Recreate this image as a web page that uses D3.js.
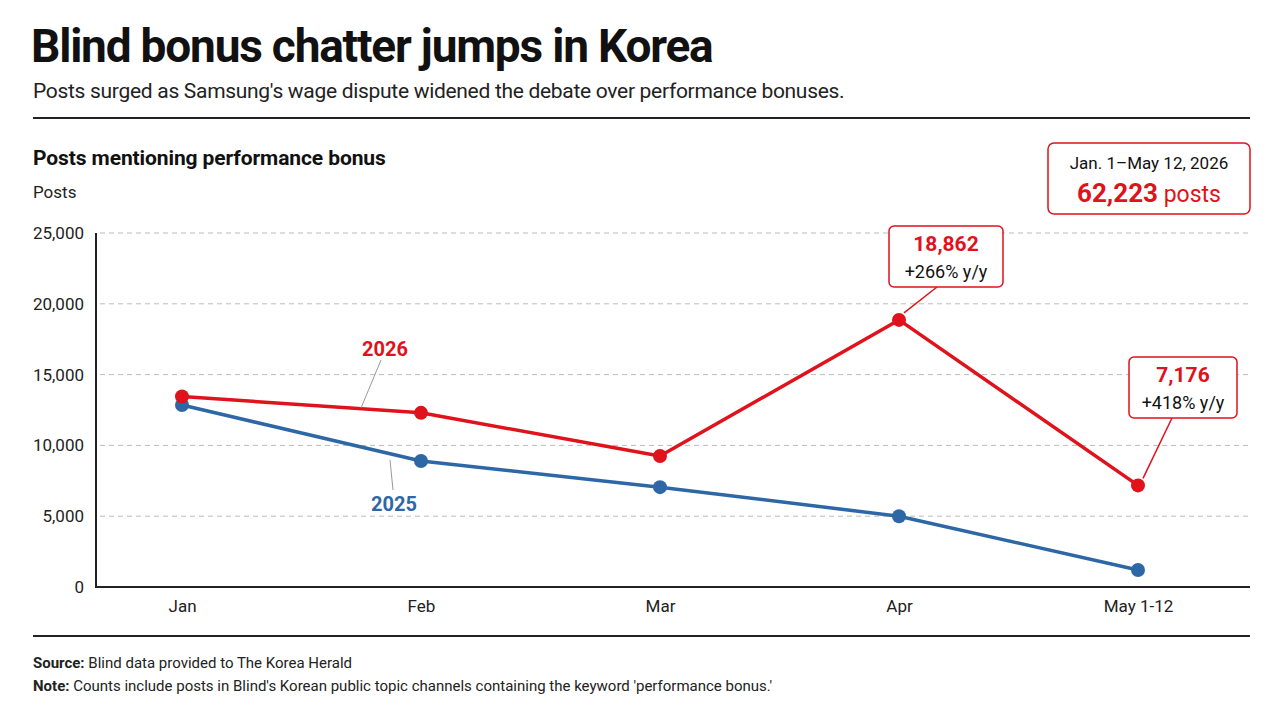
<!DOCTYPE html>
<html>
<head>
<meta charset="utf-8">
<script src="https://cdn.jsdelivr.net/npm/d3@7"></script>
<style>
  html, body { margin: 0; padding: 0; background: #fff; }
  svg { display: block; font-family: Roboto, "Noto Sans", sans-serif; }
</style>
</head>
<body>
<svg id="chart" width="1280" height="720"></svg>
<script>
// chart data
var months = ['Jan', 'Feb', 'Mar', 'Apr', 'May 1-12'];
var posts_2026 = [13450, 12300, 9250, 18862, 7176];
var posts_2025 = [12850, 8900, 7050, 5000, 1200];
var y_ticks = [0, 5000, 10000, 15000, 20000, 25000];
var callouts = [
  { idx: 3, value: '18,862', change: '+266%' },
  { idx: 4, value: '7,176', change: '+418%' }
];
var total_label = 'Jan. 1\u2013May 12, 2026';
var total_value = '62,223';

var red = '#e0121b';
var blue = '#2e67a6';

var svg = d3.select('#chart');

// header
svg.append('text').attr('x', 31).attr('y', 62)
  .attr('font-size', 46).attr('font-weight', 700).attr('letter-spacing', -1.2)
  .attr('fill', '#111').text('Blind bonus chatter jumps in Korea');

svg.append('text').attr('x', 33).attr('y', 98)
  .attr('font-size', 21).attr('letter-spacing', -0.3)
  .attr('fill', '#222').text("Posts surged as Samsung's wage dispute widened the debate over performance bonuses.");

svg.append('line').attr('x1', 33).attr('x2', 1250).attr('y1', 118).attr('y2', 118)
  .attr('stroke', '#222').attr('stroke-width', 2);

svg.append('text').attr('x', 33).attr('y', 165)
  .attr('font-size', 21).attr('font-weight', 700).attr('letter-spacing', -0.1)
  .attr('fill', '#111').text('Posts mentioning performance bonus');

svg.append('text').attr('x', 33).attr('y', 198)
  .attr('font-size', 17).attr('fill', '#222').text('Posts');

// scales
var x = d3.scalePoint().domain(months).range([182, 1138]);
var y = d3.scaleLinear().domain([0, 25000]).range([587, 233]);

// grid
svg.append('g').selectAll('line')
  .data(y_ticks.filter(function(d) { return d > 0; }))
  .enter().append('line')
  .attr('x1', 100).attr('x2', 1250)
  .attr('y1', function(d) { return y(d); }).attr('y2', function(d) { return y(d); })
  .attr('stroke', '#bbb').attr('stroke-width', 1).attr('stroke-dasharray', '5,4');

// y axis labels
var yAxis = d3.axisLeft(y).tickValues(y_ticks).tickFormat(d3.format(',')).tickSize(0).tickPadding(0);
var gy = svg.append('g').attr('transform', 'translate(84,0)').call(yAxis);
gy.select('.domain').remove();
gy.selectAll('text').attr('font-size', 17).attr('fill', '#222').attr('font-family', 'Roboto, sans-serif');

// x axis labels
var xAxis = d3.axisBottom(x).tickSize(0).tickPadding(0);
var gx = svg.append('g').attr('transform', 'translate(0,600)').call(xAxis);
gx.select('.domain').remove();
gx.selectAll('text').attr('font-size', 17).attr('fill', '#222').attr('font-family', 'Roboto, sans-serif');

// axis lines
svg.append('line').attr('x1', 96).attr('x2', 96).attr('y1', 233).attr('y2', 588)
  .attr('stroke', '#222').attr('stroke-width', 2);
svg.append('line').attr('x1', 95).attr('x2', 1250).attr('y1', 587).attr('y2', 587)
  .attr('stroke', '#222').attr('stroke-width', 2);

// lines + dots
var line = d3.line()
  .x(function(d, i) { return x(months[i]); })
  .y(function(d) { return y(d); });

function drawSeries(values, color) {
  svg.append('path').datum(values)
    .attr('d', line).attr('fill', 'none')
    .attr('stroke', color).attr('stroke-width', 3.5).attr('stroke-linejoin', 'round');
  svg.append('g').selectAll('circle').data(values).enter().append('circle')
    .attr('cx', function(d, i) { return x(months[i]); })
    .attr('cy', function(d) { return y(d); })
    .attr('r', 7).attr('fill', color);
}
drawSeries(posts_2025, blue);
drawSeries(posts_2026, red);

// series labels with leaders
svg.append('line').attr('x1', 381).attr('y1', 360).attr('x2', 361).attr('y2', 408)
  .attr('stroke', '#999').attr('stroke-width', 1);
svg.append('text').attr('x', 385).attr('y', 356).attr('text-anchor', 'middle')
  .attr('font-size', 20).attr('font-weight', 700).attr('fill', red).text('2026');

svg.append('line').attr('x1', 390).attr('y1', 460).attr('x2', 393).attr('y2', 490)
  .attr('stroke', '#999').attr('stroke-width', 1);
svg.append('text').attr('x', 394).attr('y', 511).attr('text-anchor', 'middle')
  .attr('font-size', 20).attr('font-weight', 700).attr('fill', blue).text('2025');

// point callouts
var box_pos = [
  { cx: 946, top: 226, w: 114, lx: 937 },
  { cx: 1183, top: 357, w: 108, lx: 1172 }
];
callouts.forEach(function(c, k) {
  var b = box_pos[k];
  var px = x(months[c.idx]), py = y(posts_2026[c.idx]);
  svg.append('line').attr('x1', b.lx).attr('y1', b.top + 61).attr('x2', px + 5).attr('y2', py - 7)
    .attr('stroke', red).attr('stroke-width', 1.5);
  svg.append('rect').attr('x', b.cx - b.w / 2).attr('y', b.top).attr('width', b.w).attr('height', 61)
    .attr('rx', 5).attr('fill', '#fff').attr('stroke', red).attr('stroke-width', 1.5);
  svg.append('text').attr('x', b.cx).attr('y', b.top + 25).attr('text-anchor', 'middle')
    .attr('font-size', 21).attr('font-weight', 700).attr('fill', red).text(c.value);
  var t = svg.append('text').attr('x', b.cx).attr('y', b.top + 52).attr('text-anchor', 'middle')
    .attr('font-size', 18).attr('fill', '#111');
  t.append('tspan').text(c.change);
  t.append('tspan').text(' y/y');
});

// total box
svg.append('rect').attr('x', 1048).attr('y', 143).attr('width', 202).attr('height', 71)
  .attr('rx', 6).attr('fill', '#fff').attr('stroke', red).attr('stroke-width', 1.5);
svg.append('text').attr('x', 1149).attr('y', 169).attr('text-anchor', 'middle')
  .attr('font-size', 17).attr('fill', '#111').text(total_label);
var tot = svg.append('text').attr('x', 1149).attr('y', 202).attr('text-anchor', 'middle').attr('fill', red);
tot.append('tspan').attr('font-size', 26).attr('font-weight', 700).text(total_value);
tot.append('tspan').attr('font-size', 23).text(' posts');

// footer
svg.append('line').attr('x1', 33).attr('x2', 1250).attr('y1', 636).attr('y2', 636)
  .attr('stroke', '#222').attr('stroke-width', 2);

var src = svg.append('text').attr('x', 33).attr('y', 668).attr('font-size', 15).attr('fill', '#222');
src.append('tspan').attr('font-weight', 700).text('Source:');
src.append('tspan').text(' Blind data provided to The Korea Herald');

var note = svg.append('text').attr('x', 33).attr('y', 691).attr('font-size', 15).attr('fill', '#222');
note.append('tspan').attr('font-weight', 700).text('Note:');
note.append('tspan').text(" Counts include posts in Blind's Korean public topic channels containing the keyword 'performance bonus.'");
</script>
</body>
</html>
